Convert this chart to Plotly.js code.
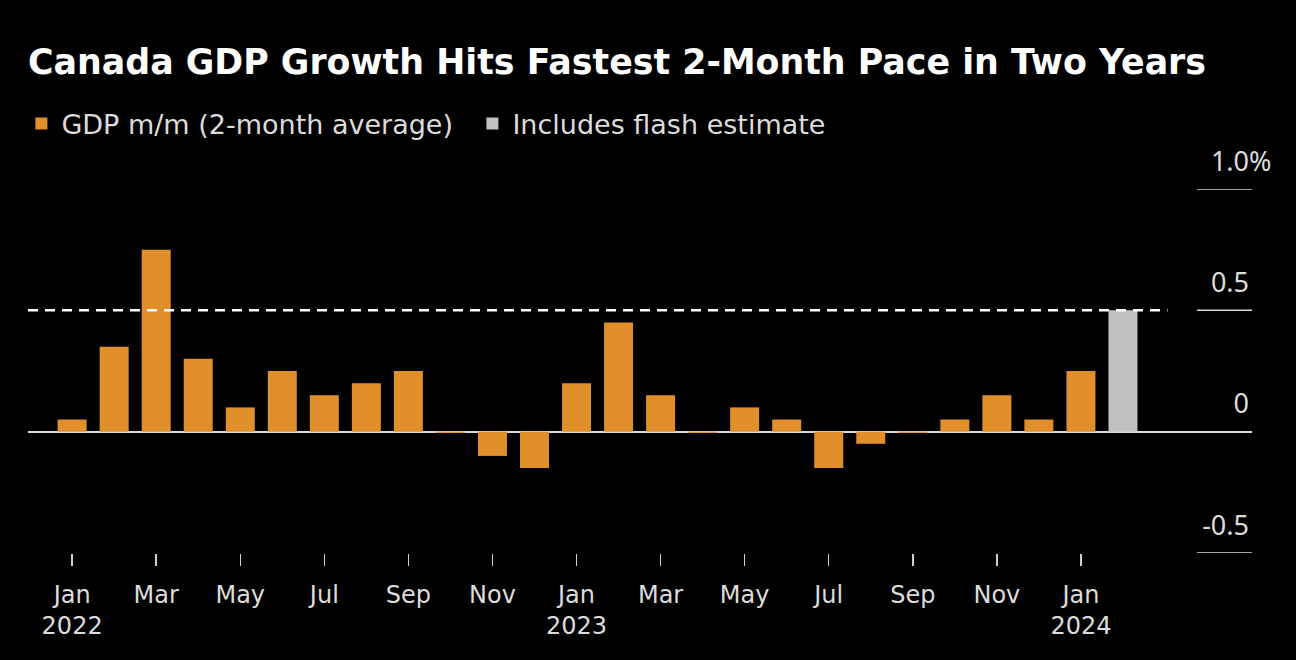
<!DOCTYPE html>
<html>
<head>
<meta charset="utf-8">
<script src="https://cdn.plot.ly/plotly-3.0.1.min.js"></script>
<style>html,body{margin:0;padding:0;background:#000;}</style>
</head>
<body>
<div id="chart" style="width:1296px;height:660px;"></div>
<script>
// Months (2-month average GDP growth, m/m %)
const months = ["2022-01","2022-02","2022-03","2022-04","2022-05","2022-06","2022-07","2022-08","2022-09","2022-10","2022-11","2022-12",
                "2023-01","2023-02","2023-03","2023-04","2023-05","2023-06","2023-07","2023-08","2023-09","2023-10","2023-11","2023-12",
                "2024-01"];
const gdpValues = [0.05,0.35,0.75,0.30,0.10,0.25,0.15,0.20,0.25,-0.005,-0.10,-0.15,
                   0.20,0.45,0.15,-0.005,0.10,0.05,-0.15,-0.05,-0.005,0.05,0.15,0.05,
                   0.25];
const flashMonths = ["2024-02"];
const flashValues = [0.50];
const tickMonths = ["2022-01","2022-03","2022-05","2022-07","2022-09","2022-11","2023-01","2023-03","2023-05","2023-07","2023-09","2023-11","2024-01"];
const tickLabels = ["Jan<br>2022","Mar","May","Jul","Sep","Nov","Jan<br>2023","Mar","May","Jul","Sep","Nov","Jan<br>2024"];
const yTickVals = [-0.5, 0, 0.5, 1.0];
const yTickText = ["-0.5", "0", "0.5", "1.0"];
const yUnit = "%";
const refLevel = 0.5;

const allMonths = months.concat(flashMonths);

const traces = [
  {type: "bar", name: "GDP m/m (2-month average)", x: months, y: gdpValues,
   marker: {color: "#e08f2a"}, hoverinfo: "x+y"},
  {type: "bar", name: "Includes flash estimate", x: flashMonths, y: flashValues,
   marker: {color: "#c0c0c0"}, hoverinfo: "x+y"}
];

const shapes = [
  {type: "line", xref: "paper", yref: "y", x0: 0, x1: 0.931, y0: refLevel, y1: refLevel,
   line: {color: "#ffffff", width: 2.5, dash: "10px,7px"}, layer: "above"}
];
yTickVals.forEach(v => {
  if (v !== 0) shapes.push({type: "line", xref: "paper", yref: "y", x0: 0.955, x1: 1, y0: v, y1: v,
    line: {color: "#d9d9d9", width: 1.5}, layer: "below"});
});

const layout = {
  width: 1296, height: 660,
  paper_bgcolor: "#000000", plot_bgcolor: "#000000",
  margin: {l: 28, r: 44, t: 189, b: 107},
  barmode: "overlay",
  bargap: 0.31,
  title: {text: "Canada GDP Growth Hits Fastest 2-Month Pace in Two Years",
          font: {family: "DejaVu Sans", size: 34.8, color: "#ffffff", weight: "bold"},
          xref: "container", yref: "container", x: 28/1296, xanchor: "left", y: 1 - 62/660, yanchor: "middle"},
  showlegend: true,
  legend: {orientation: "h", xref: "container", yref: "container", x: 0.0165, xanchor: "left",
           y: 1 - 124/660, yanchor: "middle", bgcolor: "rgba(0,0,0,0)", entrywidth: 406,
           font: {family: "DejaVu Sans", size: 27, color: "#dcdcdc"},
           itemclick: false, itemdoubleclick: false},
  xaxis: {type: "category", categoryorder: "array", categoryarray: allMonths,
          range: [-1.05, 28.07], tickmode: "array", tickvals: tickMonths, ticktext: tickLabels,
          ticks: "outside", ticklen: 12, tickwidth: 1.5, tickcolor: "#cccccc", ticklabelstandoff: 8,
          tickfont: {family: "DejaVu Sans", size: 24, color: "#dcdcdc"},
          showgrid: false, showline: false, zeroline: false, fixedrange: true},
  yaxis: {range: [-0.5, 1.0], side: "right", tickmode: "array", tickvals: yTickVals, ticktext: yTickText,
          ticklabelposition: "inside top", ticklabeloverflow: "allow", ticklabelshift: -9,
          tickfont: {family: "Noto Sans", size: 27, color: "#dcdcdc"},
          ticks: "", showgrid: false, showline: false,
          zeroline: true, zerolinecolor: "#d9d9d9", zerolinewidth: 2, fixedrange: true},
  shapes: shapes,
  annotations: [
    {text: yUnit, xref: "paper", yref: "y", x: 1, y: yTickVals[yTickVals.length - 1], xanchor: "left", yanchor: "bottom",
     yshift: 8, xshift: -5, showarrow: false, font: {family: "Noto Sans", size: 27, color: "#dcdcdc"}}
  ]
};

Plotly.newPlot("chart", traces, layout, {displayModeBar: false, staticPlot: true});
</script>
</body>
</html>
